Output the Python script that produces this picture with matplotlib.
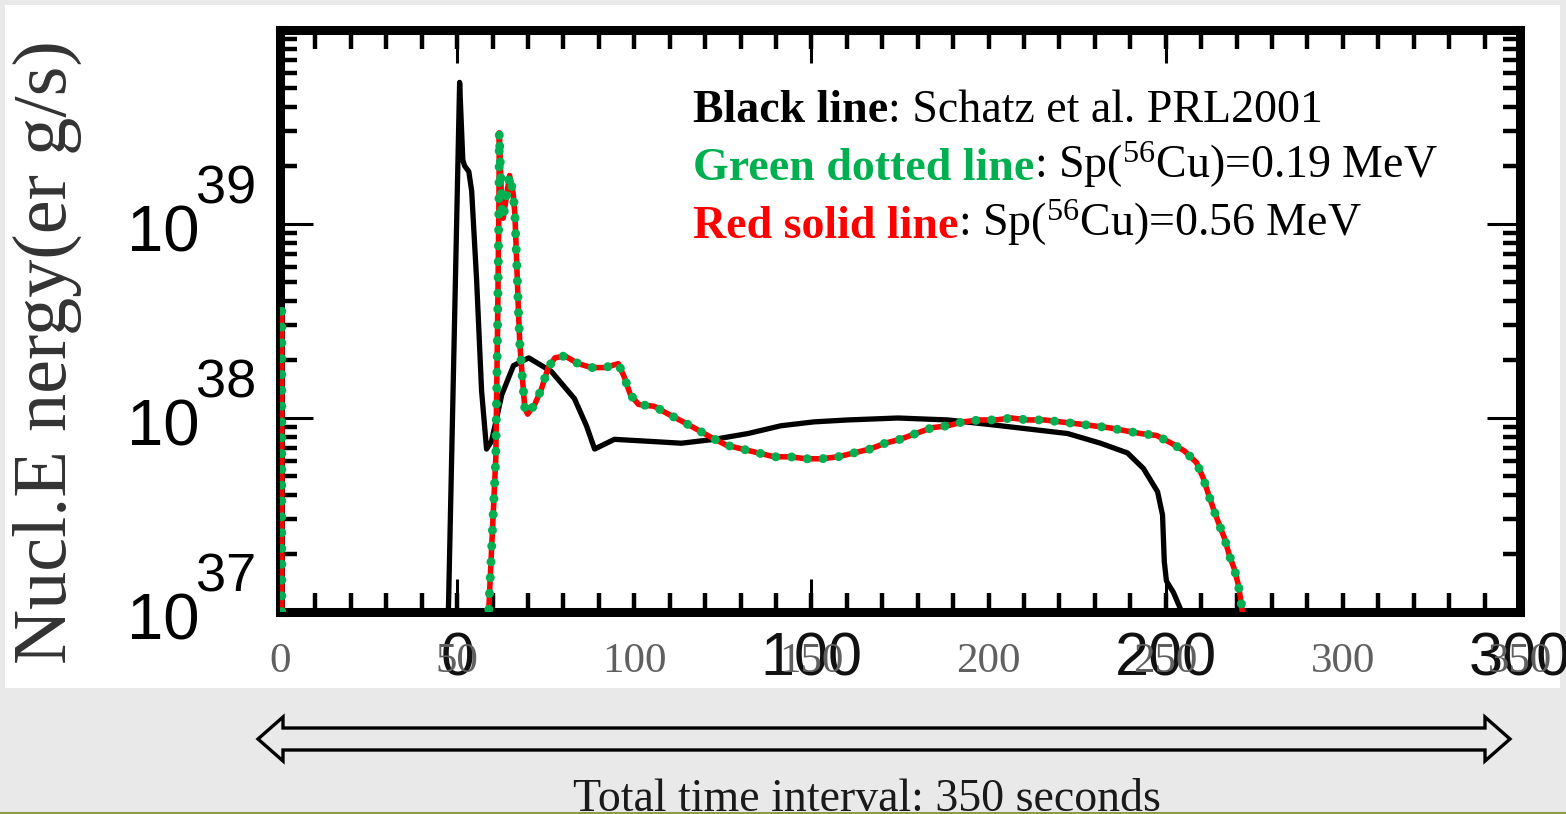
import numpy as np
import matplotlib.pyplot as plt
import matplotlib.transforms as mtransforms
from matplotlib.patches import Rectangle, Polygon
from matplotlib.ticker import FixedLocator, MultipleLocator, LogLocator, NullFormatter

plt.rcParams['mathtext.default'] = 'regular'

SERIF = 'Liberation Serif'
SANS = 'Liberation Sans'
GREEN = '#00b050'
RED = '#ff0000'

# Black line: Schatz et al. PRL2001 -- time (s), log10 of energy (erg/g/s)
t_schatz = [47.5, 50.7, 51.6, 52.1, 53.3, 54.1, 55.5, 56.9, 58.3, 59.7,
            62.6, 65.9, 70.2, 76.6, 83.1, 86.5, 88.8, 94.4, 104.0, 113.3,
            122.6, 132.1, 141.4, 150.7, 160.3, 174.4, 188.5, 203.4, 222.3, 231.6,
            239.2, 243.7, 247.7, 249.1, 249.6, 250.2, 252.2, 255.0]
loge_schatz = [36.98, 39.73, 39.33, 39.30, 39.27, 39.17, 38.71, 38.14, 37.84, 37.88,
               38.12, 38.27, 38.31, 38.24, 38.10, 37.96, 37.84, 37.89, 37.88, 37.87,
               37.89, 37.92, 37.96, 37.98, 37.99, 38.00, 37.99, 37.96, 37.92, 37.87,
               37.82, 37.74, 37.62, 37.50, 37.26, 37.16, 37.10, 36.98]

# Green dotted line: Sp(56Cu)=0.19 MeV (values below 1e37 fall off the plot)
t_sp019 = [0.5, 0.5, 58.6, 58.9, 60.9, 61.4, 61.8, 61.9, 62.6, 63.0,
           64.8, 65.8, 66.3, 66.8, 67.3, 67.7, 68.4, 69.1, 69.9, 71.9,
           73.8, 75.7, 77.6, 80.4, 84.2, 87.9, 91.7, 95.5, 97.2, 98.9,
           101.2, 105.7, 109.6, 113.8, 117.8, 121.7, 126.0, 130.5, 135.0, 139.5,
           144.0, 148.5, 153.0, 157.5, 162.0, 166.5, 170.8, 175.0, 179.5, 184.0,
           188.5, 192.7, 197.5, 202.0, 206.5, 211.0, 215.8, 220.3, 225.1, 233.9,
           242.9, 247.4, 251.6, 255.3, 258.7, 260.6, 262.0, 263.5, 264.9, 266.6,
           268.0, 269.4, 270.5, 271.3, 271.6, 271.8]
loge_sp019 = [38.55, 36.0, 36.5, 37.00, 37.79, 38.45, 39.12, 39.47, 39.08, 39.03,
              39.25, 39.16, 39.05, 38.81, 38.55, 38.38, 38.21, 38.05, 38.02, 38.07,
              38.15, 38.26, 38.31, 38.32, 38.28, 38.26, 38.26, 38.28, 38.21, 38.12,
              38.07, 38.06, 38.02, 37.98, 37.94, 37.90, 37.86, 37.84, 37.82, 37.80,
              37.80, 37.79, 37.79, 37.80, 37.82, 37.84, 37.87, 37.89, 37.92, 37.95,
              37.96, 37.98, 37.99, 37.99, 38.00, 37.99, 37.99, 37.98, 37.97, 37.95,
              37.92, 37.91, 37.87, 37.83, 37.77, 37.69, 37.61, 37.53, 37.46, 37.38,
              37.29, 37.22, 37.14, 37.05, 37.00, 36.9]

# Red solid line: Sp(56Cu)=0.56 MeV -- indistinguishable from the green one
t_sp056 = list(t_sp019)
loge_sp056 = list(loge_sp019)

x_ticks = [0, 50, 100, 150, 200, 250, 300, 350]
x_labels = [str(v) for v in x_ticks]
scan_ticks = [0, 100, 200, 300]          # time axis of the original scanned figure
scan_labels = [str(v) for v in scan_ticks]
y_decades = [37, 38, 39]

W, H = 1566, 814
fig = plt.figure(figsize=(W / 100, H / 100), dpi=100, facecolor='#e9e9e9')

# slide background: white panel, arrow and caption
deco = fig.add_axes([0, 0, 1, 1], zorder=-10)
deco.set_xlim(0, W)
deco.set_ylim(H, 0)
deco.axis('off')
deco.add_patch(Rectangle((5, 5), 1555, 683, facecolor='white', edgecolor='none'))
xl, xr, yc, sh, hh, hl = 258, 1510, 739, 11, 22, 25
arrow = Polygon([(xl, yc), (xl + hl, yc - hh), (xl + hl, yc - sh), (xr - hl, yc - sh),
                 (xr - hl, yc - hh), (xr, yc), (xr - hl, yc + hh), (xr - hl, yc + sh),
                 (xl + hl, yc + sh), (xl + hl, yc + hh)],
                closed=True, facecolor='#e9e9e9', edgecolor='black', lw=2.4)
deco.add_patch(arrow)
deco.text(867, 811, 'Total time interval: 350 seconds', ha='center', va='baseline',
          fontsize=33, fontfamily=SERIF, color='#1a1a1a')
deco.plot([0, W], [813, 813], color='#8e9b47', lw=1.5)

ax = fig.add_axes([280 / W, 1 - 612 / H, 1240 / W, 582 / H])
ax.set_yscale('log')

ax.plot(t_schatz, 10.0 ** np.array(loge_schatz), color='black', lw=3.8, zorder=3)
ax.plot(t_sp056, 10.0 ** np.array(loge_sp056), color=RED, lw=4, zorder=3)
ax.plot(t_sp019, 10.0 ** np.array(loge_sp019), color=GREEN, lw=6.5,
        linestyle=(0, (0.001, 1.75)), dash_capstyle='round', zorder=4)

ax.set_xlim(0, 350)
ax.set_ylim(1e37, 1e40)
for sp in ax.spines.values():
    sp.set_linewidth(6.5)
    sp.set_color('black')

# x axis: slide labels (grey serif), short ticks every 10 s
ax.xaxis.set_major_locator(FixedLocator(x_ticks))
ax.set_xticklabels(x_labels, fontfamily=SERIF)
ax.xaxis.set_minor_locator(MultipleLocator(10))
ax.xaxis.remove_overlapping_locs = False
ax.tick_params(axis='x', which='major', length=0, pad=22, labelsize=31, labelcolor='#606060')
ax.tick_params(axis='x', which='minor', direction='in', length=14, width=3.2,
               top=True, bottom=True)

# y axis: log ticks on both sides
ax.yaxis.set_major_locator(LogLocator(base=10, numticks=10))
ax.yaxis.set_minor_locator(LogLocator(base=10, subs=np.arange(2, 10), numticks=10))
ax.yaxis.set_major_formatter(NullFormatter())
ax.yaxis.set_minor_formatter(NullFormatter())
ax.tick_params(axis='y', which='major', direction='in', length=24, width=2.2, left=True, right=True)
ax.tick_params(axis='y', which='minor', direction='in', length=12, width=3.2, left=True, right=True)

blend = mtransforms.blended_transform_factory(ax.transAxes, ax.transData)
for d in y_decades:
    ax.annotate('10', xy=(0, 10.0 ** d), xycoords=blend, xytext=(-80, -11),
                textcoords='offset pixels', ha='right', va='center',
                fontsize=47, fontfamily=SANS, annotation_clip=False)
    ax.annotate(str(d), xy=(0, 10.0 ** d), xycoords=blend, xytext=(-84, 34),
                textcoords='offset pixels', ha='left', va='center',
                fontsize=39, fontfamily=SANS, annotation_clip=False)

ax.set_ylabel('Nucl.E nergy(er g/s)', fontfamily=SERIF, fontsize=55, color='#333333')
ax.yaxis.set_label_coords(-0.160, 0.447)


# time axis of the original figure (offset by 50 s)
def to_scan(t):
    return t - 50


def from_scan(s):
    return s + 50


sec_b = ax.secondary_xaxis('bottom', functions=(to_scan, from_scan))
sec_b.set_xticks(scan_ticks, labels=scan_labels, fontfamily=SANS, fontsize=44, color='#111111')
sec_b.tick_params(direction='in', length=24, width=2.2, pad=14)
sec_b.spines['bottom'].set_visible(False)
sec_t = ax.secondary_xaxis('top', functions=(to_scan, from_scan))
sec_t.set_xticks(scan_ticks)
sec_t.tick_params(direction='in', length=24, width=2.2, labeltop=False)
sec_t.spines['top'].set_visible(False)

# legend written as text
legend_lines = [
    [('Black line', 'black', 'bold'), (': Schatz et al. PRL2001', 'black', 'normal')],
    [('Green dotted line', GREEN, 'bold'), (': Sp($^{56}$Cu)=0.19 MeV', 'black', 'normal')],
    [('Red solid line', RED, 'bold'), (': Sp($^{56}$Cu)=0.56 MeV', 'black', 'normal')],
]
legend_y = [0.825, 0.725, 0.626]
for y, parts in zip(legend_y, legend_lines):
    prev = None
    for text, color, weight in parts:
        if prev is None:
            prev = ax.text(0.333, y, text, transform=ax.transAxes, color=color,
                           fontweight=weight, fontsize=33, fontfamily=SERIF,
                           ha='left', va='bottom', zorder=5)
        else:
            prev = ax.annotate(text, xy=(1, 0), xycoords=prev, color=color,
                               fontweight=weight, fontsize=33, fontfamily=SERIF,
                               ha='left', va='bottom', zorder=5)

fig.savefig('out.png', dpi=100, facecolor=fig.get_facecolor())
